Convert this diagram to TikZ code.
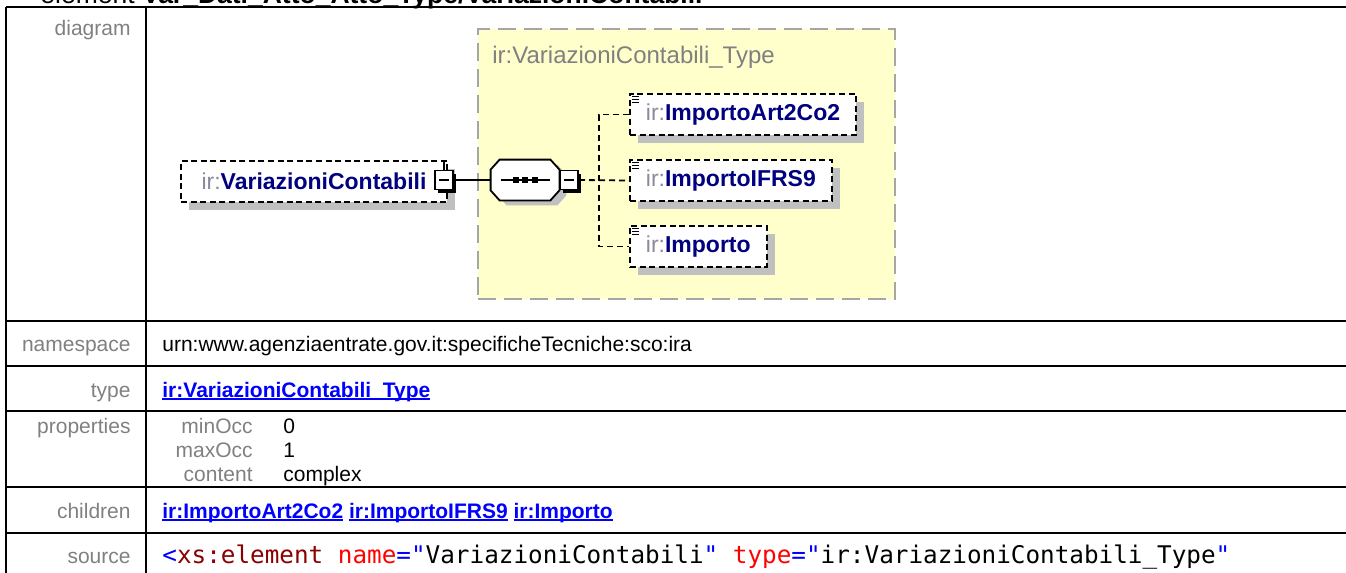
\documentclass[tikz,border=0pt]{standalone}
\usepackage{fontspec}
\setmainfont{Liberation Sans}
\newfontfamily\codefont{DejaVu Sans Mono}
\usetikzlibrary{positioning,shadows}
\definecolor{lblgray}{HTML}{808080}
\definecolor{irgray}{HTML}{8A8A9A}
\definecolor{elnavy}{HTML}{000080}
\definecolor{lnkblue}{HTML}{0000FF}
\definecolor{typeyellow}{HTML}{FFFFCC}
\definecolor{typedash}{HTML}{A6A6A6}
\definecolor{shadowgray}{HTML}{C0C0C0}
\definecolor{srcmaroon}{HTML}{8B0000}
\definecolor{srcred}{HTML}{FF0000}
\newcommand\irel[1]{{\color{irgray}ir:}\textbf{\color{elnavy}#1}}
\newcommand\lnk[1]{\setbox0\hbox{#1}\rlap{\rule[-1.6pt]{\wd0}{0.9pt}}\box0\relax}
\newcommand\seqoutline{([xshift=4.5pt]seq.north west) -- ([xshift=-4.5pt]seq.north east)
  -- ([yshift=-5pt]seq.north east) -- ([yshift=5pt]seq.south east)
  -- ([xshift=-4.5pt]seq.south east) -- ([xshift=4.5pt]seq.south west)
  -- ([yshift=5pt]seq.south west) -- ([yshift=-5pt]seq.north west) -- cycle}
\tikzset{
  tabline/.style={line width=1pt},
  rowlabel/.style={anchor=base east, text=lblgray, font=\fontsize{10.5}{12}\selectfont, inner sep=0pt},
  rowtext/.style={anchor=base west, font=\fontsize{10.5}{12}\selectfont, inner sep=0pt},
  linktext/.style={rowtext, text=lnkblue, font=\fontsize{10.5}{12}\selectfont\bfseries},
  elbox/.style={draw, line width=0.9pt, dash pattern=on 3pt off 1.8pt, fill=white,
    font=\fontsize{11.5}{13}\selectfont, minimum height=20.5pt, inner xsep=8pt,
    drop shadow={shadow xshift=4pt, shadow yshift=-4pt, fill=shadowgray, opacity=1}},
  minusbox/.style={draw, line width=0.8pt, fill=white, minimum width=9pt, minimum height=9.5pt, inner sep=0pt,
    drop shadow={shadow xshift=1.5pt, shadow yshift=-1.5pt, fill=black, opacity=1},
    path picture={\draw[line width=0.6pt] ([xshift=2pt]path picture bounding box.west) -- ([xshift=-2pt]path picture bounding box.east);}},
  seqbox/.style={minimum width=34pt, minimum height=20pt, inner sep=0pt},
  childline/.style={line width=0.9pt, dash pattern=on 3pt off 2pt},
}

\begin{document}
\begin{tikzpicture}[x=0.5pt, y=-0.5pt]
  \useasboundingbox (0,0) rectangle (1346,573);
  % title, cut at the top of the page
  \node[anchor=base west, inner sep=0pt, font=\fontsize{13.25}{15}\selectfont] (title) at (40,3.5)
    {element \textbf{Var\_Dati\_Atto\_Atto\_Type/VariazioniContabili}};
  % table grid
  \draw[tabline] (6,7) -- (1346,7);
  \draw[tabline] (6,7) -- (6,573);
  \draw[tabline] (146,7) -- (146,573);
  \foreach \y in {321,366,411,487,533}
    \draw[tabline] (6,\y) -- (1346,\y);

  % row labels
  \node[rowlabel] (ldiag) at (131,35) {diagram};
  \node[rowlabel] (lns) at (131,351) {namespace};
  \node[rowlabel] (ltype) at (131,397) {type};
  \node[rowlabel] (lprop) at (131,433) {properties};
  \node[rowlabel] (lkids) at (131,518) {children};
  \node[rowlabel] (lsrc) at (131,563) {source};

  % diagram: complex type
  \node[draw=typedash, line width=1pt, dash pattern=on 9pt off 4pt, fill=typeyellow,
    minimum width=208.5pt, minimum height=135pt, anchor=north west] (typebox) at (477,28) {};
  \node[anchor=base west, text=lblgray, font=\fontsize{12}{14}\selectfont, inner sep=0pt] (typename) at (492,63)
    {ir:VariazioniContabili\_Type};
  % element and sequence
  \node[elbox, minimum width=133pt] (elem) at (314,181.5) {\irel{VariazioniContabili}};
  \node[minusbox] (emin) at (444,180) {};
  \draw[line width=0.8pt] (elem.north -| emin) -- (emin.north);
  \node[seqbox] (seq) at (525,180) {};
  \fill[shadowgray, transform canvas={shift={(3.5pt,-2.5pt)}}] \seqoutline;
  \draw[line width=0.9pt, fill=white] \seqoutline;
  \draw[line width=0.8pt] (emin.east) -- (seq.west);
  \draw[line width=0.8pt] ([xshift=5pt]seq.west) -- ([xshift=-4.5pt]seq.east);
  \foreach \i in {-1,0,1}
    \fill ([xshift=\i*4.75pt]seq.center) +(-1.5pt,-1.5pt) rectangle +(1.5pt,1.5pt);
  \node[minusbox, anchor=west] (smin) at (seq.east) {};
  % children
  \node[elbox, anchor=west] (art) at (629,114.5) {\irel{ImportoArt2Co2}};
  \node[elbox, anchor=west] (ifrs) at (629,180.5) {\irel{ImportoIFRS9}};
  \node[elbox, anchor=west] (imp) at (629,246.5) {\irel{Importo}};
  \coordinate (fork) at (599,180.5);
  \draw[childline] (smin.east) -- (ifrs.west);
  \draw[childline] (art.west) -| (fork) |- (imp.west);
  \foreach \c in {art,ifrs,imp}
    \foreach \k in {1,2,3}
      \draw[line width=0.5pt] ([shift={(1.5pt,{-1.5pt*\k})}]\c.north west) -- ++(3.5pt,0pt);

  % namespace, type, properties, children, source
  \node[rowtext] (ns) at (162,351) {urn:www.agenziaentrate.gov.it:specificheTecniche:sco:ira};
  \node[linktext] (typelnk) at (162,397) {\lnk{ir:VariazioniContabili\_Type}};
  \node[rowlabel] (mino) at (253,433) {minOcc};
  \node[rowtext] (minov) at (283,433) {0};
  \node[rowlabel] (maxo) at (253,457) {maxOcc};
  \node[rowtext] (maxov) at (283,457) {1};
  \node[rowlabel] (cont) at (253,481) {content};
  \node[rowtext] (contv) at (283,481) {complex};
  \node[linktext] (kids) at (162,518) {\lnk{ir:ImportoArt2Co2} \lnk{ir:ImportoIFRS9} \lnk{ir:Importo}};
  \node[rowtext, font=\codefont\fontsize{12.15}{14}\selectfont] (src) at (162,563)
    {{\color{lnkblue}<}{\color{srcmaroon}xs:element} {\color{srcred}name}{\color{lnkblue}="}VariazioniContabili{\color{lnkblue}"} {\color{srcred}type}{\color{lnkblue}="}ir:VariazioniContabili\_Type{\color{lnkblue}"}};
\end{tikzpicture}
\end{document}
